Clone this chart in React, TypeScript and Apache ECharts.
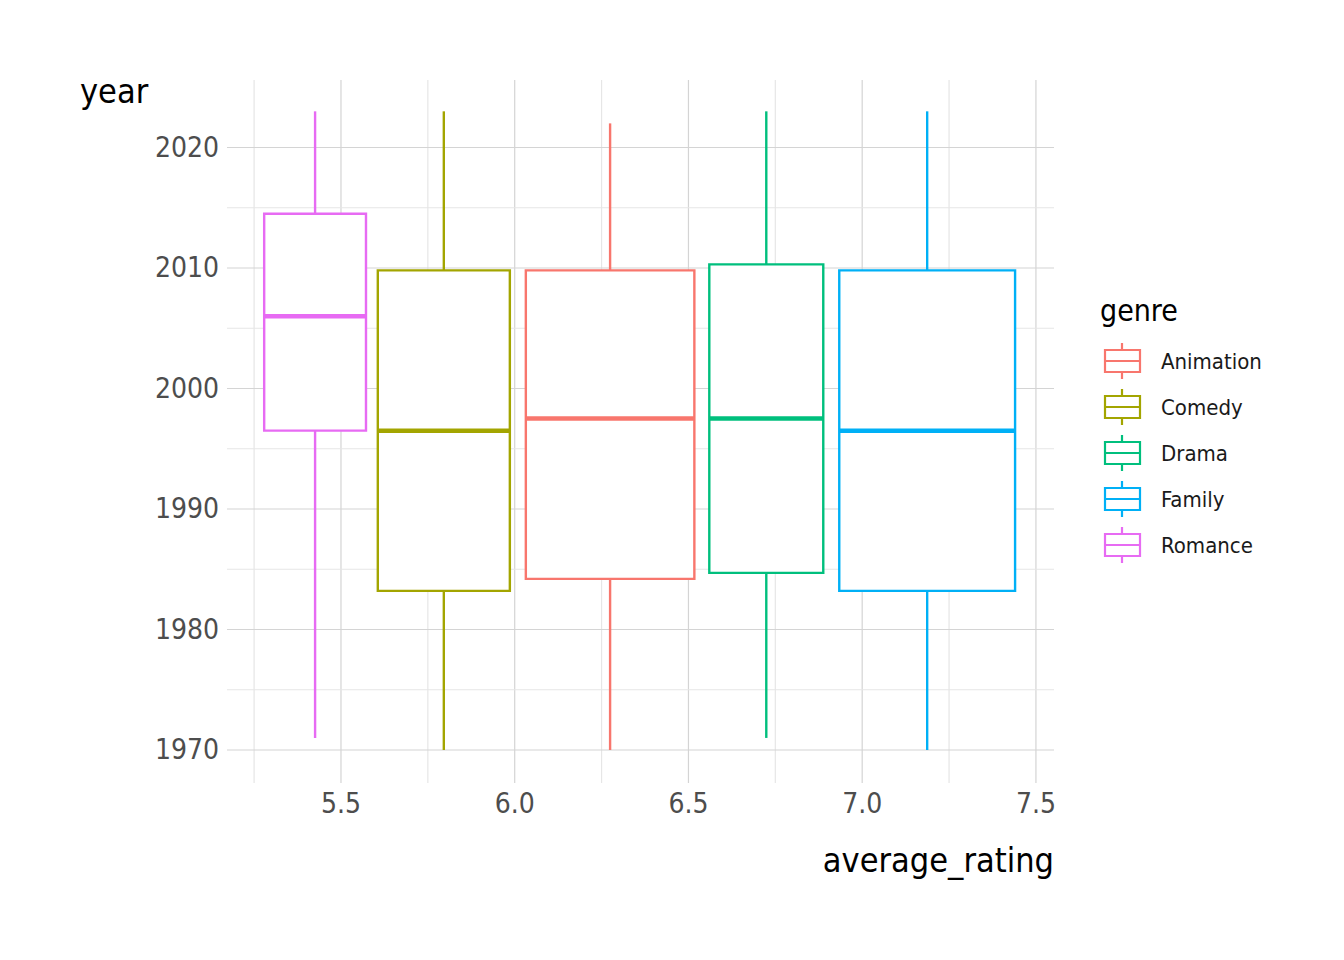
import React, { useEffect, useRef } from "react";
import * as echarts from "echarts";

const genres = ["Romance", "Comedy", "Animation", "Drama", "Family"];
const colors = ["#E76BF3", "#A3A500", "#F8766D", "#00BF7D", "#00B0F6"];
const xMin = [5.279, 5.606, 6.032, 6.56, 6.934];
const xMax = [5.572, 5.986, 6.517, 6.888, 7.44];
const lows = [1971, 1970, 1970, 1971, 1970];
const q1s = [1996.5, 1983.2, 1984.2, 1984.7, 1983.2];
const medians = [2006.0, 1996.5, 1997.5, 1997.5, 1996.5];
const q3s = [2014.5, 2009.8, 2009.8, 2010.3, 2009.8];
const highs = [2023, 2023, 2022, 2023, 2023];

const legendGenres = ["Animation", "Comedy", "Drama", "Family", "Romance"];
const legendColors = ["#F8766D", "#A3A500", "#00BF7D", "#00B0F6", "#E76BF3"];

const xTicks = [5.5, 6.0, 6.5, 7.0, 7.5];
const xMinor = [5.25, 5.75, 6.25, 6.75, 7.25];
const yTicks = [1970, 1980, 1990, 2000, 2010, 2020];
const yMinor = [1975, 1985, 1995, 2005, 2015];

const X0 = 5.172, X1 = 7.552, Y0 = 1967.26, Y1 = 2025.6;
const FONT = "'Liberation Sans Narrow', 'DejaVu Sans Condensed', 'Roboto Condensed', 'Liberation Sans', sans-serif";

export default function App() {
  const ref = useRef<HTMLDivElement>(null);
  useEffect(() => {
    const chart = echarts.init(ref.current!, null, { renderer: "svg" });
    const gridData: any[] = [];
    xTicks.forEach((v) => gridData.push(["x", v, 1]));
    xMinor.forEach((v) => gridData.push(["x", v, 0]));
    yTicks.forEach((v) => gridData.push(["y", v, 1]));
    yMinor.forEach((v) => gridData.push(["y", v, 0]));

    const legendItems: any[] = [];
    legendGenres.forEach((g, i) => {
      const cy = 361 + i * 46;
      const c = legendColors[i];
      legendItems.push(
        { type: "line", shape: { x1: 1122, y1: cy - 18, x2: 1122, y2: cy + 18 }, style: { stroke: c, lineWidth: 2.2 } },
        { type: "rect", shape: { x: 1105, y: cy - 11, width: 35, height: 22 }, style: { fill: "#fff", stroke: c, lineWidth: 2.2 } },
        { type: "line", shape: { x1: 1105, y1: cy, x2: 1140, y2: cy }, style: { stroke: c, lineWidth: 2.2 } },
        { type: "text", x: 1161, y: cy, style: { text: g, fill: "#1a1a1a", font: `22px ${FONT}`, verticalAlign: "middle" } }
      );
    });

    chart.setOption({
      animation: false,
      grid: { left: 227, right: 290, top: 80, bottom: 177 },
      xAxis: {
        type: "value", min: X0, max: X1,
        axisLine: { show: false }, axisTick: { show: false }, splitLine: { show: false },
        axisLabel: { customValues: xTicks, formatter: (v: number) => v.toFixed(1), color: "#4d4d4d", fontSize: 28, fontFamily: FONT, margin: 6 },
      },
      yAxis: {
        type: "value", min: Y0, max: Y1,
        axisLine: { show: false }, axisTick: { show: false }, splitLine: { show: false },
        axisLabel: { customValues: yTicks, formatter: (v: number) => String(Math.round(v)), color: "#4d4d4d", fontSize: 28, fontFamily: FONT, margin: 8 },
      },
      graphic: [
        { type: "text", left: 80, top: 74, style: { text: "year", fill: "#000", font: `34px ${FONT}` } },
        { type: "text", x: 1054, y: 860, style: { text: "average_rating", fill: "#000", font: `34px ${FONT}`, align: "right", verticalAlign: "middle" } },
        { type: "text", x: 1100, y: 310, style: { text: "genre", fill: "#000", font: `30px ${FONT}`, verticalAlign: "middle" } },
        ...legendItems,
      ],
      series: [
        {
          type: "custom", silent: true, z: 1,
          data: gridData,
          renderItem: (params: any, api: any) => {
            const d = gridData[params.dataIndex];
            const stroke = d[2] ? "#d4d4d4" : "#e6e6e6";
            if (d[0] === "x") {
              const a = api.coord([d[1], Y0]), b = api.coord([d[1], Y1]);
              return { type: "line", shape: { x1: a[0], y1: a[1], x2: b[0], y2: b[1] }, style: { stroke, lineWidth: 1.2 } };
            }
            const a = api.coord([X0, d[1]]), b = api.coord([X1, d[1]]);
            return { type: "line", shape: { x1: a[0], y1: a[1], x2: b[0], y2: b[1] }, style: { stroke, lineWidth: 1.2 } };
          },
        },
        {
          type: "custom", z: 2,
          data: genres.map((g, i) => [xMin[i], xMax[i], lows[i], q1s[i], medians[i], q3s[i], highs[i]]),
          renderItem: (params: any, api: any) => {
            const i = params.dataIndex;
            const c = colors[i];
            const xc = (xMin[i] + xMax[i]) / 2;
            const pLow = api.coord([xc, lows[i]]);
            const pHigh = api.coord([xc, highs[i]]);
            const tl = api.coord([xMin[i], q3s[i]]);
            const br = api.coord([xMax[i], q1s[i]]);
            const m = api.coord([xMin[i], medians[i]]);
            return {
              type: "group",
              children: [
                { type: "line", shape: { x1: pLow[0], y1: pLow[1], x2: pLow[0], y2: br[1] }, style: { stroke: c, lineWidth: 2.4 } },
                { type: "line", shape: { x1: pHigh[0], y1: pHigh[1], x2: pHigh[0], y2: tl[1] }, style: { stroke: c, lineWidth: 2.4 } },
                { type: "rect", shape: { x: tl[0], y: tl[1], width: br[0] - tl[0], height: br[1] - tl[1] }, style: { fill: "#fff", stroke: c, lineWidth: 2.4 } },
                { type: "line", shape: { x1: tl[0], y1: m[1], x2: br[0], y2: m[1] }, style: { stroke: c, lineWidth: 4.5 } },
              ],
            };
          },
        },
      ],
    });
    return () => chart.dispose();
  }, []);
  return <div ref={ref} style={{ width: 1344, height: 960, margin: -8 }} />;
}
